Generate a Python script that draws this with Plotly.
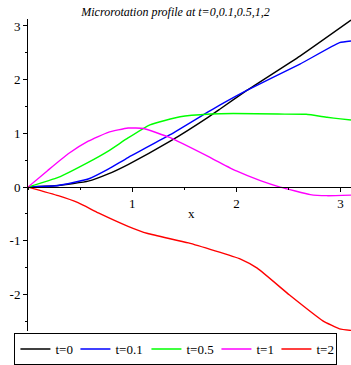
import plotly.graph_objects as go

# t = 0
x_t0 = [0, 0.29, 0.578, 0.77, 0.96, 1.365, 1.72, 1.84, 2.10, 2.61, 3.10]
y_t0 = [0, 0.03, 0.11, 0.245, 0.42, 0.855, 1.29, 1.45, 1.80, 2.44, 3.11]
# t = 0.1
x_t01 = [0, 0.29, 0.578, 0.77, 0.96, 1.365, 1.72, 1.84, 2.10, 2.61, 2.99, 3.10]
y_t01 = [0, 0.03, 0.15, 0.335, 0.55, 0.975, 1.39, 1.525, 1.80, 2.29, 2.69, 2.72]
# t = 0.5
x_t05 = [0, 0.29, 0.578, 0.77, 0.96, 1.17, 1.46, 1.75, 1.97, 2.40, 2.67, 2.87, 3.00, 3.10]
y_t05 = [0, 0.18, 0.46, 0.67, 0.915, 1.16, 1.31, 1.36, 1.37, 1.36, 1.355, 1.30, 1.27, 1.25]
# t = 1
x_t1 = [0, 0.19, 0.386, 0.578, 0.77, 0.96, 1.11, 1.365, 1.75, 2.00, 2.23, 2.42, 2.71, 2.87, 3.10]
y_t1 = [0, 0.31, 0.62, 0.855, 1.02, 1.10, 1.09, 0.92, 0.55, 0.30, 0.12, 0.0, -0.14, -0.16, -0.15]
# t = 2
x_t2 = [0, 0.29, 0.48, 0.675, 0.96, 1.15, 1.54, 2.04, 2.20, 2.51, 2.83, 2.99, 3.10]
y_t2 = [0, -0.16, -0.29, -0.48, -0.73, -0.865, -1.04, -1.34, -1.51, -2.01, -2.49, -2.64, -2.67]

series = [
    ("t=0", x_t0, y_t0, "#000000", 15),
    ("t=0.1", x_t01, y_t01, "#0000ff", 26),
    ("t=0.5", x_t05, y_t05, "#00ff00", 25),
    ("t=1", x_t1, y_t1, "#ff00ff", 15),
    ("t=2", x_t2, y_t2, "#ff0000", 15),
]

x_ticks = [1, 2, 3]
y_ticks = [-2, -1, 0, 1, 2, 3]
y_tick_labels = ["-2", "-1", "0", "1", "2", "3"]
title_text = "Microrotation profile at t=0,0.1,0.5,1,2"
x_range = [0, 3.1]
y_range = [-2.68, 3.13]

font = "Liberation Serif, Times New Roman, serif"

fig = go.Figure()
for name, xs, ys, col, lw in series:
    fig.add_trace(go.Scatter(x=xs, y=ys, mode="lines", name=name, legendwidth=lw,
                             line=dict(color=col, width=1.4, shape="spline", smoothing=0.4)))

zero_pos = (0 - y_range[0]) / (y_range[1] - y_range[0])

fig.update_layout(
    width=351, height=365,
    margin=dict(l=28, r=0, t=19, b=28),
    paper_bgcolor="white", plot_bgcolor="white",
    font=dict(family=font, size=13, color="black"),
    title=dict(text="<i>" + title_text + "</i>", x=0.5, xref="container",
               y=1 - 12 / 365, yref="container", yanchor="middle",
               font=dict(family=font, size=12, color="black")),
    showlegend=True,
    legend=dict(orientation="h", xref="paper", yref="paper",
                x=0.458, xanchor="center", y=-0.008, yanchor="top",
                bordercolor="black", borderwidth=1, bgcolor="white",
                font=dict(family=font, size=13, color="black"),
                itemwidth=30, tracegroupgap=0, entrywidthmode="pixels"),
    xaxis=dict(range=x_range, anchor="free", position=zero_pos,
               showline=True, linecolor="black", linewidth=1,
               showgrid=False, zeroline=False,
               tickvals=x_ticks, ticks="outside", ticklen=4, tickcolor="black",
               minor=dict(dtick=0.5, tick0=0, ticks="outside", ticklen=2, tickcolor="black"),
               tickfont=dict(family=font, size=13, color="black")),
    yaxis=dict(range=y_range, showline=True, linecolor="black", linewidth=1,
               showgrid=False, zeroline=False,
               tickvals=y_ticks, ticktext=y_tick_labels,
               ticks="outside", ticklen=4, tickcolor="black",
               minor=dict(dtick=0.5, tick0=0, ticks="outside", ticklen=2, tickcolor="black"),
               tickfont=dict(family=font, size=13, color="black")),
    annotations=[dict(text="x", x=1.57, y=-0.5, xref="x", yref="y",
                      showarrow=False, font=dict(family=font, size=13, color="black"))],
)

fig.write_html("out.html", config={"displayModeBar": False},
               post_script="document.body.style.margin='0px';")
